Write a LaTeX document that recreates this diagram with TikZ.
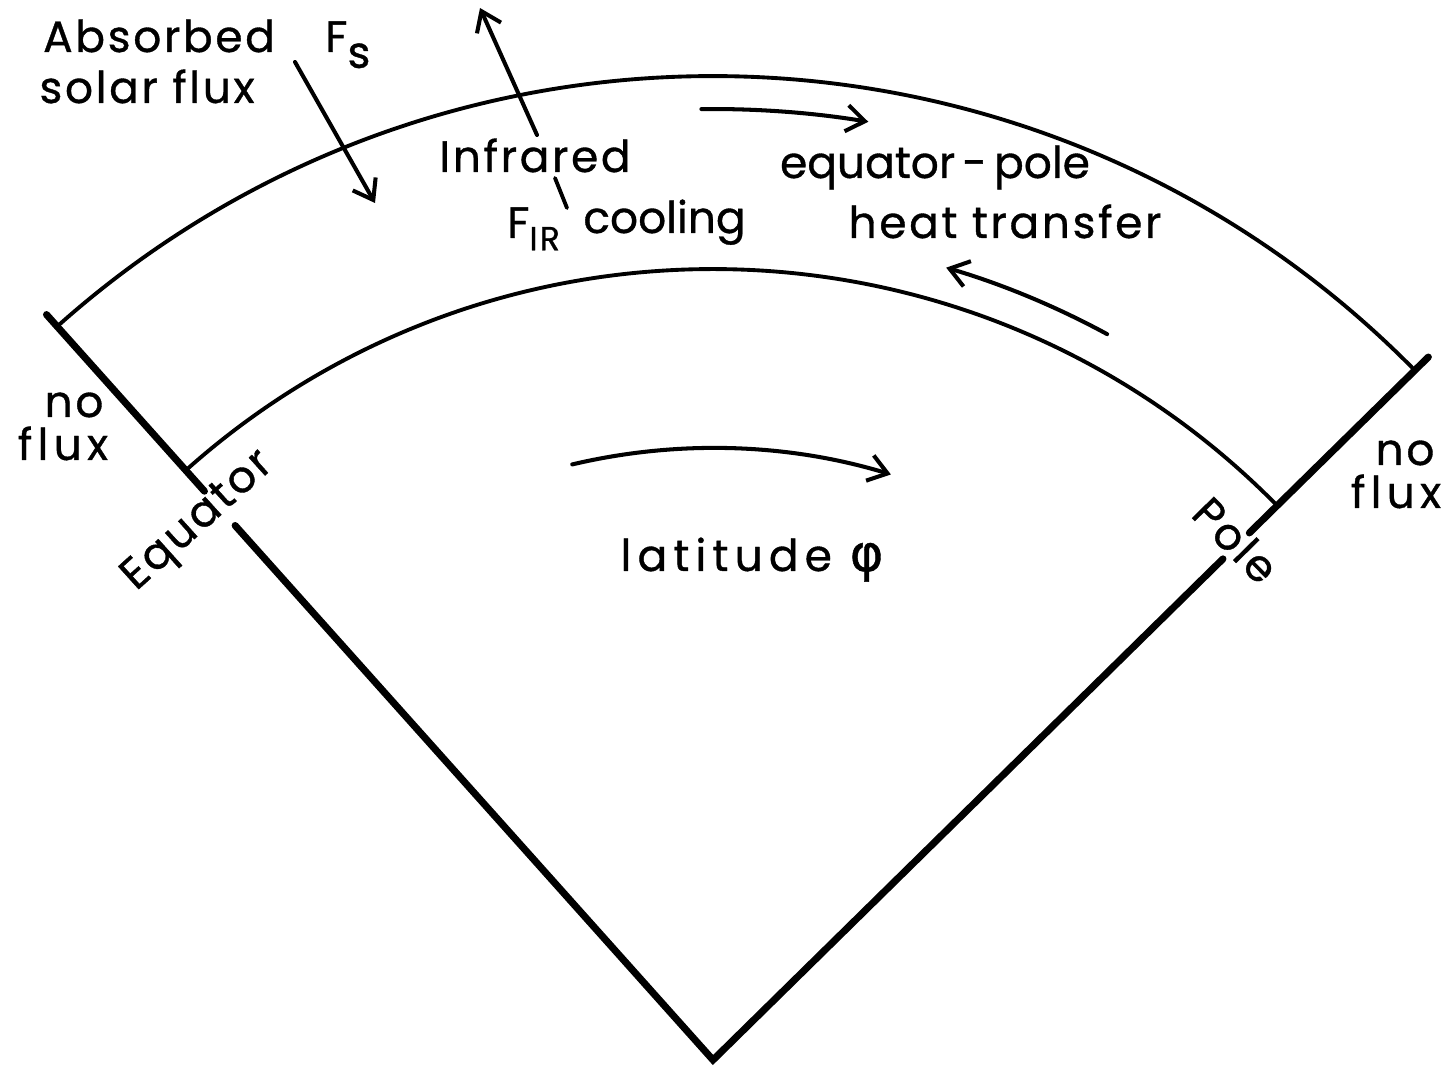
\documentclass[tikz,border=0pt]{standalone}
\usepackage{fontspec}
\setmainfont{Poppins}[LetterSpace=6,FakeBold=0.8]
\newfontfamily\greekfont{DejaVu Sans}[FakeBold=0.8]
\usetikzlibrary{arrows.meta}
\begin{document}
\begin{tikzpicture}[x=0.02cm,y=0.02cm,
  thickline/.style={line width=4pt, line cap=round},
  arcline/.style={line width=2.2pt},
  flow/.style={line width=2.3pt, line cap=round, -{Straight Barb[length=10.5pt,width=15pt,line width=2.3pt]}},
  lbl/.style={inner sep=0pt, font=\fontsize{25}{30}\selectfont},
]
\useasboundingbox (0,0) rectangle (1450,1069);
\coordinate (O) at (713,9);
\begin{scope}[shift={(O)}]
  % sector sides
  \coordinate (Ltop) at (131.8:1000);
  \coordinate (Lg1) at (131.8:763);
  \coordinate (Lg2) at (131.8:717);
  \coordinate (Rtop) at (44.5:1003);
  \coordinate (Rg1) at (44.5:752);
  \coordinate (Rg2) at (44.5:715);
  \draw[thickline] (Ltop) -- (Lg1);
  \draw[thickline] (Lg2) -- (0,0) -- (Rg2);
  \draw[thickline] (Rg1) -- (Rtop);
  % arcs
  \draw[arcline] (131.8:984) arc[start angle=131.8, end angle=44.5, radius=984];
  \draw[arcline] (131.8:791) arc[start angle=131.8, end angle=44.5, radius=791];
  % flow arrows
  \coordinate (Ta) at (90.7:951);
  \coordinate (Ra) at (61.5:826);
  \coordinate (La) at (103.3:612);
  \draw[flow] (Ta) arc[start angle=90.7, end angle=80.6, radius=951];
  \draw[flow] (Ra) arc[start angle=61.5, end angle=73.6, radius=826];
  \draw[flow] (La) arc[start angle=103.3, end angle=73.1, radius=612];
\end{scope}
% radiative arrows
\coordinate (S1) at (295,1007);
\coordinate (S2) at (375,866);
\coordinate (I1) at (537,934);
\coordinate (I2) at (480,1061);
\coordinate (K1) at (555,891);
\coordinate (K2) at (567,861);
\draw[flow] (S1) -- (S2);
\draw[flow] (I1) -- (I2);
\draw[line width=2.2pt, line cap=round] (K1) -- (K2);
% labels
\node[lbl, anchor=base] (absorbed) at (159,1017) {Absorbed};
\node[lbl, anchor=base] (solar) at (147,966) {solar flux};
\node[lbl, anchor=base west] (Fs) at (325,1017) {F\raisebox{-9pt}{s}};
\node[lbl, anchor=base] (infra) at (535,897) {Infrared};
\node[lbl, anchor=base west] (FIR) at (507,831) {F\raisebox{-7pt}{\fontsize{19}{22}\selectfont IR}};
\node[lbl, anchor=base west] (cool) at (583,836) {\addfontfeature{LetterSpace=0}cooling};
\node[lbl, anchor=base] (eqp) at (935,891) {\addfontfeature{LetterSpace=0}equator\,-\,pole};
\node[lbl, anchor=base] (heat) at (1005,831) {heat transfer};
\node[lbl, anchor=base] (lat) at (752,498) {\addfontfeature{LetterSpace=14}latitude\ {\greekfont\fontsize{29}{32}\selectfont φ}};
\node[lbl, anchor=base] (no1) at (74,652) {no};
\node[lbl, anchor=base] (fl1) at (63,609) {\addfontfeature{LetterSpace=12}flux};
\node[lbl, anchor=base] (no2) at (1405,604) {no};
\node[lbl, anchor=base] (fl2) at (1396,561) {\addfontfeature{LetterSpace=12}flux};
\node[lbl, rotate=42] (equator) at (199,547) {Equator};
\node[lbl, rotate=-45.5] (pole) at (1236,529) {Pole};
\end{tikzpicture}
\end{document}
